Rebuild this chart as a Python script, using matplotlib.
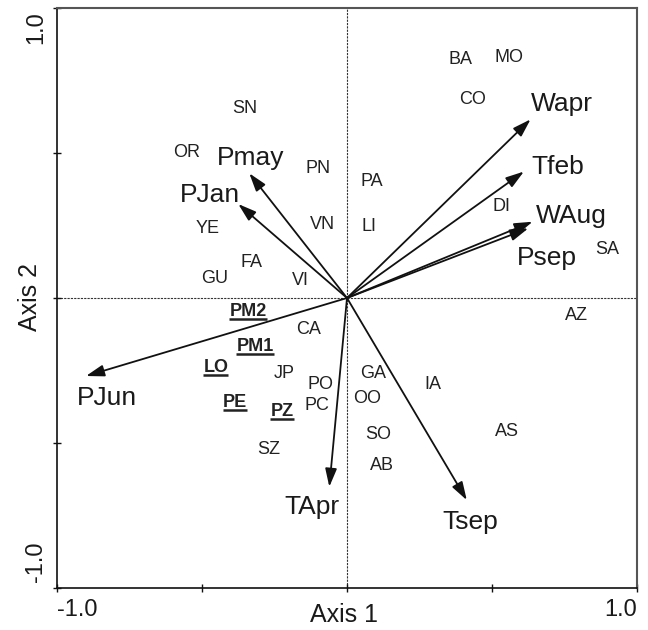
import matplotlib
matplotlib.use("Agg")
import matplotlib.pyplot as plt

plt.rcParams['font.family'] = ['Liberation Sans', 'DejaVu Sans']

# Environmental vectors (arrow tips) and label positions
var_names = ['Wapr', 'Tfeb', 'WAug', 'Psep', 'Pmay', 'PJan', 'PJun', 'TApr', 'Tsep']
vec_x = [0.633, 0.610, 0.640, 0.625, -0.337, -0.375, -0.900, -0.061, 0.413]
vec_y = [0.616, 0.436, 0.263, 0.240, 0.430, 0.324, -0.269, -0.651, -0.697]
var_lab_x = [0.741, 0.728, 0.772, 0.690, -0.334, -0.472, -0.828, -0.121, 0.424]
var_lab_y = [0.669, 0.452, 0.283, 0.138, 0.483, 0.355, -0.345, -0.721, -0.772]

# Sites
site_names = ['SN', 'OR', 'PN', 'PA', 'LI', 'YE', 'VN', 'FA', 'GU', 'VI', 'BA', 'MO', 'CO',
              'DI', 'SA', 'AZ', 'CA', 'JP', 'PO', 'PC', 'GA', 'OO', 'IA', 'SO', 'AB', 'AS', 'SZ']
site_x = [-0.352, -0.552, -0.100, 0.086, 0.076, -0.479, -0.083, -0.331, -0.455, -0.159, 0.393,
          0.559, 0.434, 0.534, 0.897, 0.793, -0.131, -0.217, -0.090, -0.103, 0.090, 0.069,
          0.297, 0.107, 0.121, 0.552, -0.269]
site_y = [0.655, 0.503, 0.448, 0.403, 0.248, 0.241, 0.255, 0.121, 0.066, 0.062, 0.821,
          0.831, 0.683, 0.317, 0.166, -0.059, -0.107, -0.262, -0.300, -0.372, -0.262, -0.345,
          -0.297, -0.472, -0.579, -0.462, -0.524]

# Highlighted sites (bold, underlined)
hl_names = ['PM2', 'PM1', 'LO', 'PE', 'PZ']
hl_x = [-0.341, -0.317, -0.452, -0.386, -0.224]
hl_y = [-0.048, -0.166, -0.241, -0.362, -0.393]

fig = plt.figure(figsize=(6.48, 6.30), dpi=100)
ax = fig.add_axes([0.088, 0.0667, 0.895, 0.9206])
ax.set_xlim(-1, 1)
ax.set_ylim(-1, 1)

ax.axhline(0, color='#333333', lw=0.8, ls=(0, (2, 1)), zorder=1)
ax.axvline(0, color='#333333', lw=0.8, ls=(0, (2, 1)), zorder=1)

for x, y in zip(vec_x, vec_y):
    ax.annotate('', xy=(x, y), xytext=(0, 0),
                arrowprops=dict(arrowstyle='-|>,head_length=1.0,head_width=0.32',
                                color='#111111', lw=1.3, shrinkA=0, shrinkB=0,
                                mutation_scale=11), zorder=3)

for n, x, y in zip(var_names, var_lab_x, var_lab_y):
    ax.text(x, y, n, fontsize=19, ha='center', va='center', color='#1a1a1a')

for n, x, y in zip(site_names, site_x, site_y):
    ax.text(x, y, n, fontsize=13, ha='center', va='center', color='#222222')

hl_texts = []
for n, x, y in zip(hl_names, hl_x, hl_y):
    t = ax.text(x, y, n, fontsize=13, ha='center', va='center', color='#222222',
                fontweight='bold')
    hl_texts.append(t)

ax.set_xticks([-1, -0.5, 0, 0.5, 1])
ax.set_yticks([-1, -0.5, 0, 0.5, 1])
ax.set_xticklabels([])
ax.set_yticklabels([])
ax.tick_params(direction='inout', length=6, width=1, color='#111111')

for s in ['left', 'bottom']:
    ax.spines[s].set_linewidth(1.2)
    ax.spines[s].set_color('#111111')
for s in ['top', 'right']:
    ax.spines[s].set_linewidth(1.5)
    ax.spines[s].set_color('#555555')

# tick labels
fig.text(57 / 648, 1 - 610 / 630, '-1.0', fontsize=17, ha='left', va='center', color='#1a1a1a')
fig.text(637 / 648, 1 - 610 / 630, '1.0', fontsize=17, ha='right', va='center', color='#1a1a1a')
fig.text(36 / 648, 1 - 28 / 630, '1.0', fontsize=17, ha='center', va='center', rotation=90, color='#1a1a1a')
fig.text(36 / 648, 1 - 562 / 630, '-1.0', fontsize=17, ha='center', va='center', rotation=90, color='#1a1a1a')
fig.text(344 / 648, 1 - 615 / 630, 'Axis 1', fontsize=18, ha='center', va='center', color='#1a1a1a')
fig.text(30 / 648, 1 - 297 / 630, 'Axis 2', fontsize=18, ha='center', va='center', rotation=90, color='#1a1a1a')

# underlines for highlighted sites
fig.canvas.draw()
r = fig.canvas.get_renderer()
inv = ax.transData.inverted()
for t in hl_texts:
    bb = t.get_window_extent(renderer=r)
    (x0, y0), (x1, y1) = inv.transform([(bb.x0, bb.y0 + 1), (bb.x1, bb.y0 + 1)])
    ax.plot([x0, x1], [y0, y1], color='#222222', lw=1.8, solid_capstyle='butt')

fig.savefig('out.png', dpi=100)
